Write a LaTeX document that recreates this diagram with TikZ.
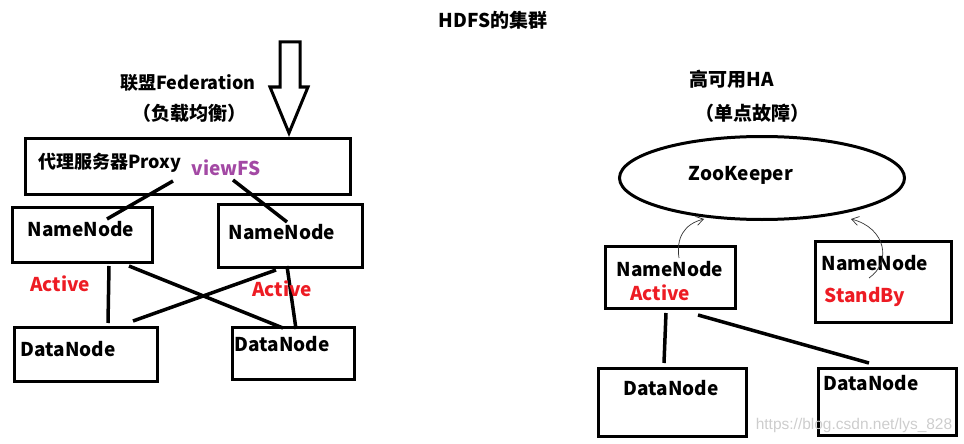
\documentclass[tikz,border=0pt]{standalone}
\usepackage{fontspec}
\setmainfont{Noto Sans CJK SC}
\newfontfamily\wmfont{Liberation Sans}
\usetikzlibrary{arrows.meta,shapes.geometric}
\definecolor{pred}{RGB}{237,28,36}
\definecolor{ppurple}{RGB}{163,73,164}
\definecolor{wmgray}{RGB}{205,205,205}
\begin{document}
\begin{tikzpicture}[x=1pt,y=-1pt,
  box/.style={draw=black, line width=3pt, rectangle, inner sep=0pt, anchor=north west},
  lbl/.style={font=\bfseries\fontsize{19}{19}\selectfont, inner sep=0pt, text=black},
  cjklbl/.style={lbl, font=\bfseries\fontsize{18}{18}\selectfont},
  redlbl/.style={lbl, text=pred},
  conn/.style={line width=3.5pt, draw=black},
  thin/.style={line width=0.7pt, draw=black!80, -{Straight Barb[length=7pt,width=9pt]}}]
\useasboundingbox (0,0) rectangle (964,444);
% title
\node[lbl] (title) at (493,20) {HDFS的集群};
% left part
\node[cjklbl] (fed) at (188,83) {联盟Federation};
\node[lbl] (fedsub) at (189,113) {（负载均衡）};
\draw[line width=3pt, line join=miter] (280,42) -- (300,42) -- (300,87) -- (308,87) -- (289,133) -- (270,87) -- (280,87) -- cycle;
\node[box, minimum width=325pt, minimum height=56pt] (proxy) at (24,137) {};
\node[cjklbl, anchor=west] (proxyt) at (38,163) {代理服务器Proxy};
\node[lbl, text=ppurple] (viewfs) at (226,168) {viewFS};
\node[box, minimum width=140pt, minimum height=55pt] (nn1) at (11,206) {};
\node[box, minimum width=144pt, minimum height=63pt] (nn2) at (217,203) {};
\node[box, minimum width=143pt, minimum height=54pt] (dn1) at (13,326) {};
\node[box, minimum width=122pt, minimum height=52pt] (dn2) at (231,326) {};
\node[lbl] (nn1t) at (81,229) {NameNode};
\node[lbl] (nn2t) at (282,232) {NameNode};
\node[lbl] (dn1t) at (68,349) {DataNode};
\node[lbl] (dn2t) at (282,344) {DataNode};
\node[redlbl] (act1) at (60,284) {Active};
\draw[conn] ([shift={(149,-15)}]proxy.south west) -- ([shift={(96,13)}]nn1.north west);
\draw[conn] ([shift={(209,-16)}]proxy.south west) -- ([shift={(70,19)}]nn2.north west);
\draw[conn] ([shift={(98,2)}]nn1.south west) -- ([shift={(95,-3)}]dn1.north west);
\draw[conn] ([shift={(118,2)}]nn1.south west) -- ([shift={(52,2)}]dn2.north west);
\draw[conn] ([shift={(59,1)}]nn2.south west) -- ([shift={(120,-5)}]dn1.north west);
\draw[conn] ([shift={(70,-3)}]nn2.south west) -- ([shift={(65,3)}]dn2.north west);
\node[redlbl] (act2) at (282,289) {Active};
% right part
\node[lbl] (ha) at (732,79) {高可用HA};
\node[lbl] (hasub) at (752,113) {（单点故障）};
\node[draw=black, line width=3pt, ellipse, minimum width=285pt, minimum height=83pt, inner sep=0pt] (zk) at (762,178) {};
\node[lbl] (zkt) at (741,175) {ZooKeeper};
\node[box, minimum width=130pt, minimum height=62pt] (hnn1) at (604,245) {};
\node[box, minimum width=136pt, minimum height=81pt] (hnn2) at (814,240) {};
\node[box, minimum width=148pt, minimum height=68pt] (hdn1) at (597,367) {};
\node[box, minimum width=138pt, minimum height=67pt] (hdn2) at (817,367) {};
\node[lbl] (hnn1t) at (670,269) {NameNode};
\node[redlbl] (hact) at (660,293) {Active};
\node[lbl] (hnn2t) at (875,263) {NameNode};
\node[redlbl] (hsb) at (865,297) {StandBy};
\node[lbl] (hdn1t) at (671,388) {DataNode};
\node[lbl] (hdn2t) at (871,383) {DataNode};
\draw[conn] ([shift={(62,3)}]hnn1.south west) -- ([shift={(67,-4)}]hdn1.north west);
\draw[conn] ([shift={(94,5)}]hnn1.south west) -- ([shift={(52,-4)}]hdn2.north west);
\draw[thin] ([shift={(75,13)}]hnn1.north west) .. controls (676,238) and (684,224) .. ([shift={(-58,-2)}]zk.south);
\draw[thin] ([shift={(55,38)}]hnn2.north west) .. controls (892,262) and (886,228) .. ([shift={(89,-2)}]zk.south);
\node[font=\wmfont\fontsize{15.5}{15.5}\selectfont, text=wmgray, inner sep=0pt] (wm) at (854,425) {https://blog.csdn.net/lys\_828};
\end{tikzpicture}
\end{document}
